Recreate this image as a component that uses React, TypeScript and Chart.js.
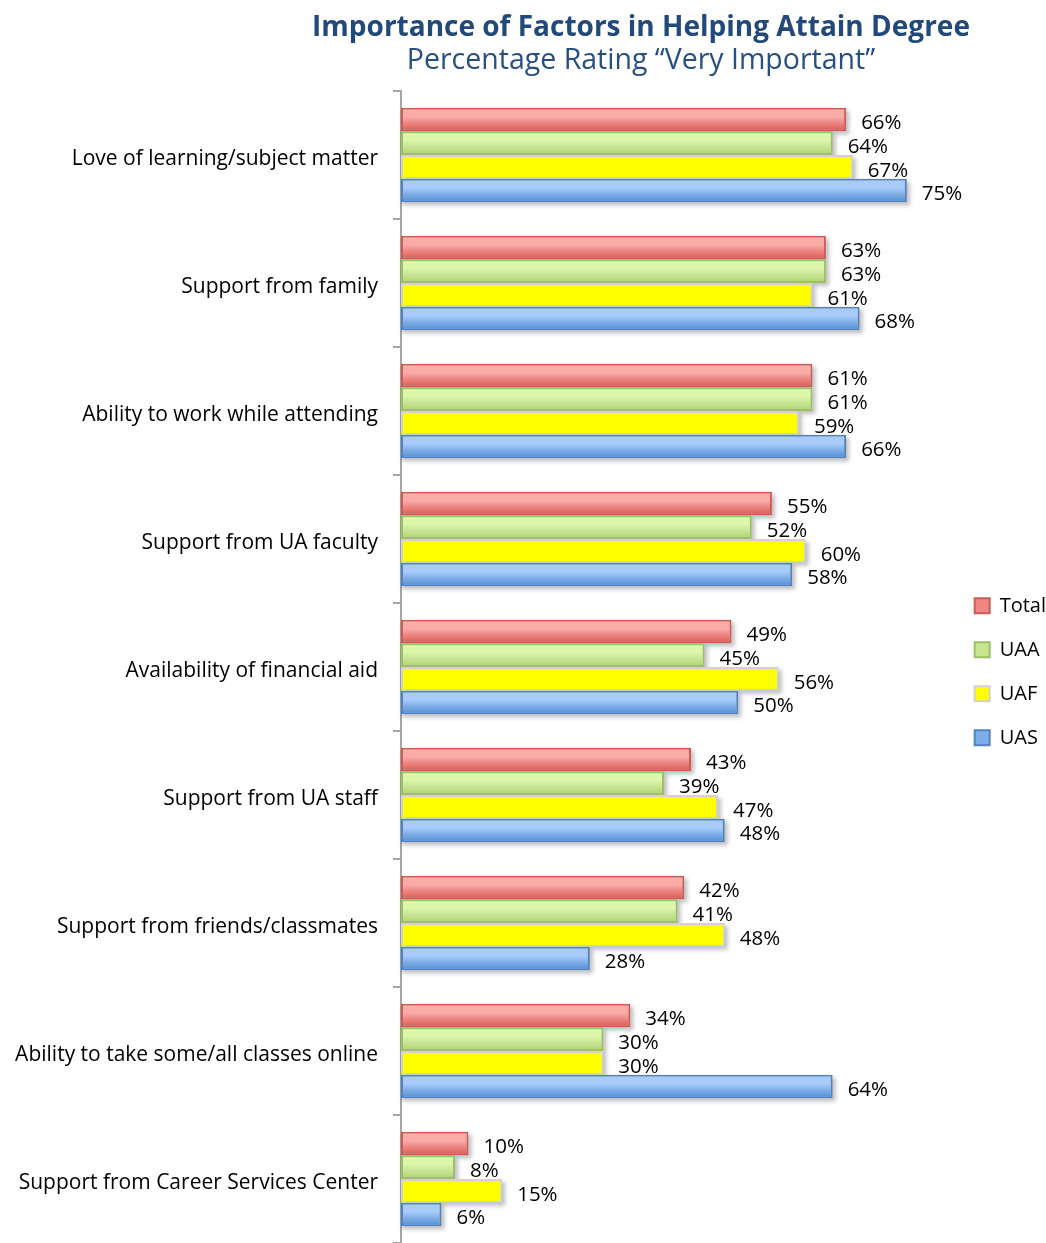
import { useEffect, useRef } from "react";
import { Chart, registerables } from "chart.js";

Chart.register(...registerables);

const categories = [
  "Love of learning/subject matter",
  "Support from family",
  "Ability to work while attending",
  "Support from UA faculty",
  "Availability of financial aid",
  "Support from UA staff",
  "Support from friends/classmates",
  "Ability to take some/all classes online",
  "Support from Career Services Center",
];
const seriesNames = ["Total", "UAA", "UAF", "UAS"];
const totalValues = [66, 63, 61, 55, 49, 43, 42, 34, 10];
const uaaValues = [64, 63, 61, 52, 45, 39, 41, 30, 8];
const uafValues = [67, 61, 59, 60, 56, 47, 48, 30, 15];
const uasValues = [75, 68, 66, 58, 50, 48, 28, 64, 6];
const titleText = "Importance of Factors in Helping Attain Degree";
const subtitleText = "Percentage Rating \u201cVery Important\u201d";

const FONT = "'Open Sans', Lato, sans-serif";

const seriesStyles = [
  { fill: "#EE8682", top: "#FAACA9", bottom: "#DE625D", border: "#CC5B57" },
  { fill: "#C8E690", top: "#DDF6AC", bottom: "#B4D57A", border: "#9FC062" },
  { fill: "#FFFF00", top: "#FFFF00", bottom: "#FFFF00", border: "#D2D2D2" },
  { fill: "#7EAEEA", top: "#A8CBF8", bottom: "#5A95D6", border: "#5283C0" },
];

const BW = 2;

const barDecor = {
  id: "barDecor",
  beforeDatasetsDraw(chart: any) {
    const ctx = chart.ctx;
    ctx.save();
    ctx.filter = "blur(2px)";
    ctx.fillStyle = "rgba(0,0,0,0.25)";
    chart.data.datasets.forEach((_: any, i: number) => {
      const meta = chart.getDatasetMeta(i);
      meta.data.forEach((el: any) => {
        const p = el.getProps(["x", "y", "base", "height"], true);
        const left = Math.min(p.base, p.x);
        const w = Math.abs(p.x - p.base);
        ctx.fillRect(left + 1, p.y - p.height / 2 + 3, w + 2, p.height);
      });
    });
    ctx.restore();
  },
  afterDatasetDraw(chart: any, args: any) {
    const ctx = chart.ctx;
    const st = seriesStyles[args.index];
    ctx.save();
    args.meta.data.forEach((el: any) => {
      const p = el.getProps(["x", "y", "base", "height"], true);
      const left = Math.min(p.base, p.x) + BW;
      const w = Math.abs(p.x - p.base) - 2 * BW;
      const top = p.y - p.height / 2 + BW;
      const h = p.height - 2 * BW;
      if (w <= 0) return;
      const g = ctx.createLinearGradient(0, top, 0, top + h);
      g.addColorStop(0, st.top);
      g.addColorStop(0.35, st.top);
      g.addColorStop(1, st.bottom);
      ctx.fillStyle = g;
      ctx.fillRect(left, top, w, h);
    });
    ctx.restore();
  },
};

const valueLabels = {
  id: "valueLabels",
  afterDatasetsDraw(chart: any) {
    const ctx = chart.ctx;
    ctx.save();
    ctx.font = `20.5px ${FONT}`;
    ctx.fillStyle = "#000";
    ctx.textAlign = "left";
    ctx.textBaseline = "middle";
    chart.data.datasets.forEach((ds: any, i: number) => {
      const meta = chart.getDatasetMeta(i);
      meta.data.forEach((el: any, j: number) => {
        ctx.fillText(`${ds.data[j]}%`, el.x + 15, el.y + 4);
      });
    });
    ctx.restore();
  },
};

const titles = {
  id: "titles",
  afterDraw(chart: any) {
    const ctx = chart.ctx;
    ctx.save();
    ctx.textAlign = "center";
    ctx.textBaseline = "alphabetic";
    ctx.fillStyle = "#21497A";
    ctx.font = `bold 28px ${FONT}`;
    ctx.fillText(titleText, 641, 36);
    ctx.fillStyle = "#274F82";
    ctx.font = `28.5px ${FONT}`;
    ctx.fillText(subtitleText, 641, 69);
    ctx.restore();
  },
};

export default function App() {
  const ref = useRef<HTMLCanvasElement | null>(null);
  useEffect(() => {
    if (!ref.current) return;
    const valueSets = [totalValues, uaaValues, uafValues, uasValues];
    const chart = new Chart(ref.current, {
      type: "bar",
      data: {
        labels: categories,
        datasets: seriesNames.map((name, i) => ({
          label: name,
          data: valueSets[i],
          backgroundColor: seriesStyles[i].fill,
          borderColor: seriesStyles[i].border,
          borderWidth: BW,
          borderSkipped: false,
          categoryPercentage: 0.74,
          barPercentage: 1.0,
        })),
      },
      options: {
        indexAxis: "y",
        animation: false,
        responsive: true,
        maintainAspectRatio: false,
        layout: { padding: { top: 91, left: 0, right: -10, bottom: 0 } },
        scales: {
          x: { display: false, min: 0, max: 81.5 },
          y: {
            grid: {
              display: true,
              drawOnChartArea: false,
              drawTicks: true,
              tickLength: 8,
              color: "#A6A6A6",
              lineWidth: 2,
              offset: true,
            },
            border: { display: true, color: "#A6A6A6", width: 2 },
            ticks: {
              font: { family: FONT, size: 21 },
              color: "#000",
              padding: 15,
              labelOffset: 4,
            },
            afterFit: (s: any) => {
              s.width = 401;
              s.paddingTop = 0;
              s.paddingBottom = 0;
            },
          },
        },
        plugins: {
          legend: {
            position: "right",
            align: "center",
            title: { display: true, text: " ", font: { size: 8 }, padding: 0 },
            labels: {
              font: { family: FONT, size: 20 },
              color: "#000",
              boxWidth: 15,
              boxHeight: 15,
              padding: 24,
            },
          },
          tooltip: { enabled: false },
        },
      },
      plugins: [barDecor, valueLabels, titles],
    });
    return () => chart.destroy();
  }, []);
  return (
    <div style={{ position: "absolute", left: 0, top: 0, width: 1046, height: 1243 }}>
      <canvas ref={ref} />
    </div>
  );
}
